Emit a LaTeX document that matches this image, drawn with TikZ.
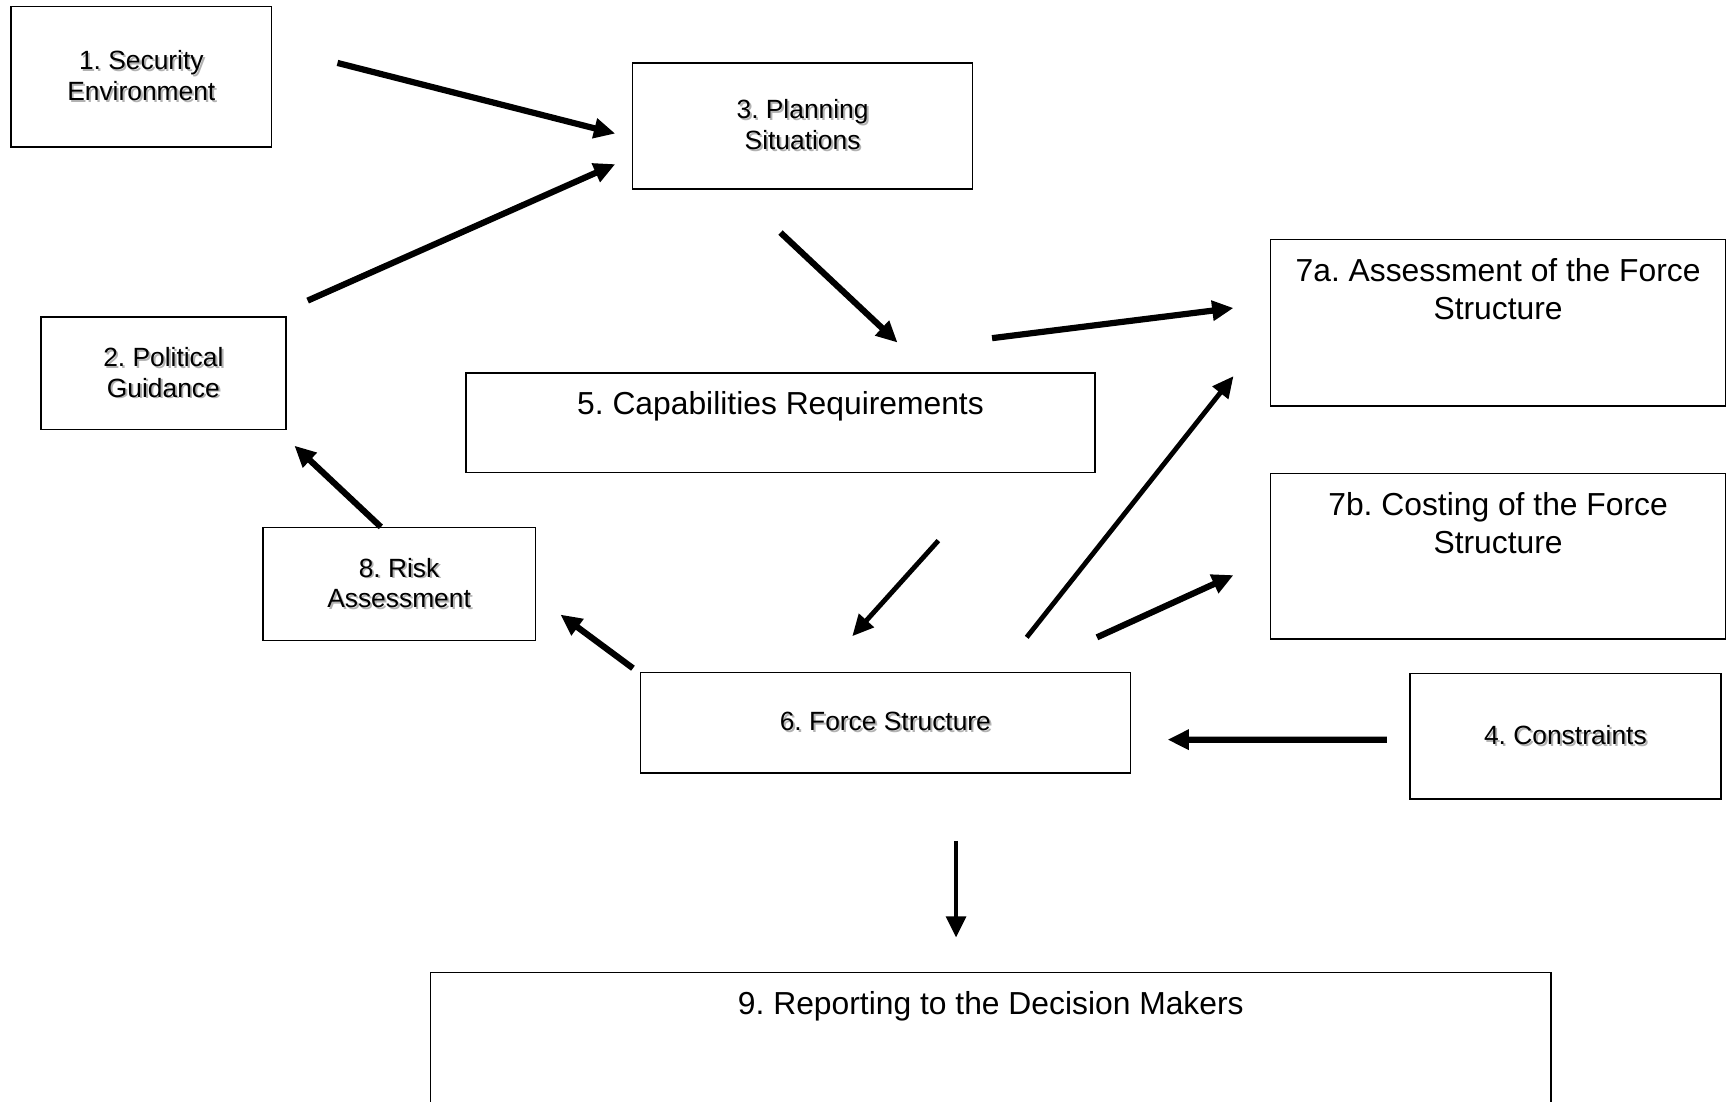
\documentclass[tikz,border=0pt]{standalone}
\usepackage{fontspec}
\setmainfont{Liberation Sans}
\usepackage{tikz}
\usetikzlibrary{positioning, arrows.meta}
\frenchspacing

\newcommand{\shd}[1]{\rlap{\kern1pt\raisebox{-1pt}{\color{black!30}#1}}#1}

\begin{document}
\begin{tikzpicture}[x=0.02cm,y=-0.02cm,on grid,
		box/.style={draw,line width=0.8pt,inner sep=0pt,align=center,font=\fontsize{13.6}{15.9}\selectfont},
		big/.style={draw,line width=0.8pt,inner sep=0pt},
		lbl/.style={inner sep=0pt,align=center,anchor=north,yshift=-0.34cm,font=\fontsize{16.4}{19.9}\selectfont},
		>={Triangle[length=11pt,width=10pt]},
		flow/.style={->,line width=3.2pt},
		thin flow/.style={->,line width=2.5pt}]
			\useasboundingbox (0,0) rectangle (1568,998);
			\clip (0,0) rectangle (1568,998);
			\node[box,minimum width=4.72cm,minimum height=2.54cm] (1) at (128,69.5) 	{\shd{1. Security}\\\shd{Environment}};
			\node[box,minimum width=4.44cm,minimum height=2.04cm] (2) at (148,338) 	{\shd{2. Political}\\\shd{Guidance}};
			\node[box,minimum width=6.16cm,minimum height=2.28cm] (3) at (727,114) 	{\shd{3. Planning}\\\shd{Situations}};
			\node[big,minimum width=11.4cm,minimum height=1.8cm,label={[lbl]north:5. Capabilities Requirements}] (5) at (707,383) {};
			\node[big,minimum width=8.24cm,minimum height=3.02cm,label={[lbl]north:7a. Assessment of the Force\\Structure}] (7a) at (1357,292.5) {};
			\node[big,minimum width=8.24cm,minimum height=3cm,label={[lbl]north:7b. Costing of the Force\\Structure}] (7b) [below=4.23cm of 7a] {};
			\node[box,minimum width=4.94cm,minimum height=2.04cm] (8) at (361.5,529) 	{\shd{8. Risk}\\\shd{Assessment}};
			\node[box,minimum width=8.88cm,minimum height=1.82cm] (6) at (802,654.5) 	{\shd{6. Force Structure}};
			\node[box,minimum width=5.64cm,minimum height=2.28cm] (4) at (1418,667) 	{\shd{4. Constraints}};
			\node[big,minimum width=20.3cm,minimum height=3cm,label={[lbl]north:9. Reporting to the Decision Makers}] (9) at (897.5,956) {};
			\path[flow] ([shift={(59,-12.5)}]1.east) edge ([shift={(-15,7)}]3.west)
						([shift={(19,-14)}]2.north east) edge ([shift={(-15,-23)}]3.south west)
						([shift={(-20,39)}]3.south) edge ([shift={(106,-27)}]5.north)
						([shift={(-94,-31)}]5.north east) edge ([shift={(-33,-13.5)}]7a.west)
						([shift={(-31,-31)}]6.north east) edge ([shift={(-33,17)}]7b.west)
						([shift={(-6,-3)}]6.north west) edge ([shift={(22,-24)}]8.south east)
						([shift={(-16.5,0)}]8.north) edge ([shift={(7,14)}]2.south east)
						([shift={(-20,3)}]4.west) edge ([shift={(33,15.5)}]6.east);
			\path[thin flow] ([shift={(143,61)}]5.south) edge ([shift={(-30,-32)}]6.north)
						([shift={(128,-31)}]6.north) edge ([shift={(-33,-28)}]7a.south west)
						([shift={(64,61)}]6.south) edge ([shift={(-31.5,-31)}]9.north);
	\end{tikzpicture}
\end{document}
